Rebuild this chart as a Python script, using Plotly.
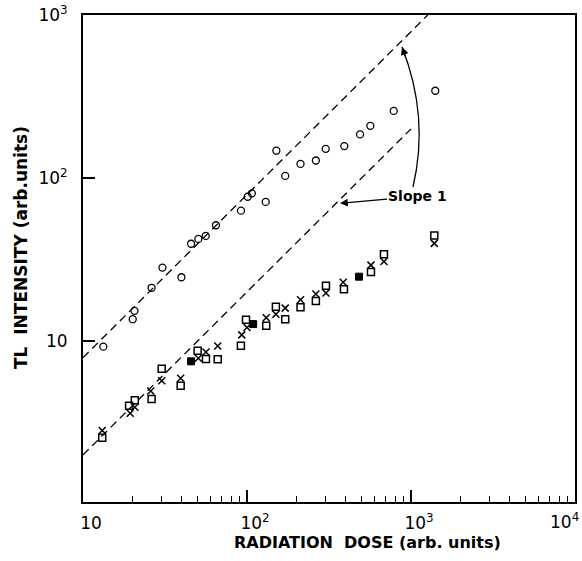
import plotly.graph_objects as go

# ---- data (radiation dose vs TL intensity, arb. units) ----
circle_dose = [13.3, 20.1, 20.6, 26.2, 30.5, 39.8, 45.6, 50.5, 56.0, 64.7, 91.9, 101, 107,
               130, 151, 171, 212, 263, 302, 392, 489, 565, 785, 1406]
circle_tl = [9.23, 13.6, 15.3, 21.2, 28.2, 24.6, 39.5, 42.3, 44.1, 51.3, 63.0, 76.7, 80.5,
             71.3, 147, 103, 122, 128, 151, 157, 185, 209, 258, 343]

square_dose = [13.1, 19.1, 20.7, 26.2, 30.2, 39.4, 50.0, 56.2, 66.3, 91.8, 98.6, 131, 150,
               171, 212, 263, 303, 390, 570, 684, 1387]
square_tl = [2.55, 4.01, 4.33, 4.41, 6.76, 5.32, 8.72, 7.76, 7.73, 9.36, 13.5, 12.4, 16.2,
             13.6, 16.1, 17.6, 21.8, 20.8, 26.5, 34.0, 44.3]

cross_dose = [13.1, 19.4, 20.7, 25.9, 30.2, 39.4, 50.5, 56.2, 66.3, 92.9, 100, 131, 150,
              171, 212, 263, 303, 386, 570, 684, 1387]
cross_tl = [2.82, 3.60, 3.92, 4.93, 5.70, 5.91, 7.83, 8.56, 9.31, 10.9, 12.1, 13.9, 14.6,
            15.9, 17.9, 19.4, 19.7, 22.9, 29.2, 30.7, 39.7]

# points where square and cross coincide (drawn as filled squares)
both_dose = [45.6, 109, 482]
both_tl = [7.50, 12.7, 24.8]

# slope-1 reference lines
upper_dose = [10, 1266]
upper_tl = [7.9, 1000]
lower_dose = [10, 1000]
lower_tl = [2.0, 200]

x_tickvals = [10, 100, 1000, 10000]
x_ticktext = ["10", "10<sup>2</sup>", "10<sup>3</sup>", ""]
x_last_label = "10<sup>4</sup>"
y_tickvals = [10, 100, 1000]
y_ticktext = ["10", "10<sup>2</sup>", "10<sup>3</sup>"]
x_minor = [m * 10 ** d for d in (1, 2, 3) for m in range(2, 10)]

FONT = "DejaVu Sans"
fig = go.Figure()

dash = dict(color="black", width=1.3, dash="8px,5px")
fig.add_trace(go.Scatter(x=upper_dose, y=upper_tl, mode="lines", line=dash, showlegend=False))
fig.add_trace(go.Scatter(x=lower_dose, y=lower_tl, mode="lines", line=dash, showlegend=False))

fig.add_trace(go.Scatter(x=circle_dose, y=circle_tl, mode="markers", showlegend=False,
                         marker=dict(symbol="circle-open", size=7, color="black",
                                     line=dict(width=1.3, color="black"))))
fig.add_trace(go.Scatter(x=square_dose, y=square_tl, mode="markers", showlegend=False,
                         marker=dict(symbol="square-open", size=7, color="black",
                                     line=dict(width=1.5, color="black"))))
fig.add_trace(go.Scatter(x=cross_dose, y=cross_tl, mode="markers", showlegend=False,
                         marker=dict(symbol="x-thin-open", size=7, color="black",
                                     line=dict(width=1.5, color="black"))))
fig.add_trace(go.Scatter(x=both_dose, y=both_tl, mode="markers", showlegend=False,
                         marker=dict(symbol="square", size=7, color="black",
                                     line=dict(width=1, color="black"))))

L, R, T, B = 83, 7, 15, 59
W, H = 582, 561
pw, ph = W - L - R, H - T - B


def px(x):
    return (x - L) / pw


def py(y):
    return (H - B - y) / ph


# curved arrow pointing to the upper line
p0 = (px(413), py(187))
c = (px(429.5), py(117))
p2 = (px(402), py(47))
fig.add_shape(type="path", xref="paper", yref="paper",
              path=f"M {p0[0]:.4f} {p0[1]:.4f} Q {c[0]:.4f} {c[1]:.4f} {p2[0]:.4f} {p2[1]:.4f}",
              line=dict(color="black", width=1.3))
fig.add_annotation(xref="paper", yref="paper", x=p2[0], y=p2[1], text="", showarrow=True,
                   ax=4, ay=11, arrowhead=2, arrowsize=1.2, arrowwidth=1.3, arrowcolor="black")

# label with straight arrow to the lower line
fig.add_annotation(xref="paper", yref="paper", x=px(340), y=py(203.3), text="<b>Slope 1</b>",
                   showarrow=True, ax=77, ay=-7, arrowhead=2, arrowsize=1.2, arrowwidth=1.3,
                   arrowcolor="black", font=dict(family=FONT, size=14, color="black"),
                   borderpad=0)

# last x tick label kept inside the page
fig.add_annotation(xref="paper", yref="paper", x=px(581), y=py(521), showarrow=False,
                   xanchor="right", yanchor="middle", text=x_last_label,
                   font=dict(family=FONT, size=17, color="black"))

# axis titles placed like the reference
fig.add_annotation(xref="paper", yref="paper", x=px(367), y=py(542), showarrow=False,
                   xanchor="center", yanchor="middle",
                   text="<b>RADIATION  DOSE (arb. units)</b>",
                   font=dict(family=FONT, size=16, color="black"))
fig.add_annotation(xref="paper", yref="paper", x=px(21), y=py(248), showarrow=False,
                   xanchor="center", yanchor="middle",
                   textangle=-90, text="<b>TL  INTENSITY (arb.units)</b>",
                   font=dict(family=FONT, size=17, color="black"))

fig.update_xaxes(type="log", range=[1, 4], showline=True, mirror=True, linewidth=2,
                 linecolor="black", ticks="inside", ticklen=12, tickwidth=1.5,
                 tickcolor="black", tickvals=x_tickvals, ticktext=x_ticktext,
                 showgrid=False, zeroline=False, ticklabelstandoff=5, ticklabelshift=8,
                 automargin=False, ticklabeloverflow="allow",
                 tickfont=dict(family=FONT, size=17, color="black"),
                 minor=dict(ticks="inside", ticklen=6, tickwidth=1.3, tickcolor="black",
                            tickvals=x_minor, showgrid=False))
fig.update_yaxes(type="log", range=[0.012, 3], showline=True, mirror=True, linewidth=2,
                 linecolor="black", ticks="inside", ticklen=12, tickwidth=1.5,
                 tickcolor="black", tickvals=y_tickvals, ticktext=y_ticktext,
                 showgrid=False, zeroline=False, ticklabelstandoff=10, automargin=False,
                 ticklabeloverflow="allow",
                 tickfont=dict(family=FONT, size=17, color="black"))

fig.update_layout(width=W, height=H, margin=dict(l=L, r=R, t=T, b=B),
                  paper_bgcolor="white", plot_bgcolor="white", showlegend=False)

fig.write_html("out.html")
